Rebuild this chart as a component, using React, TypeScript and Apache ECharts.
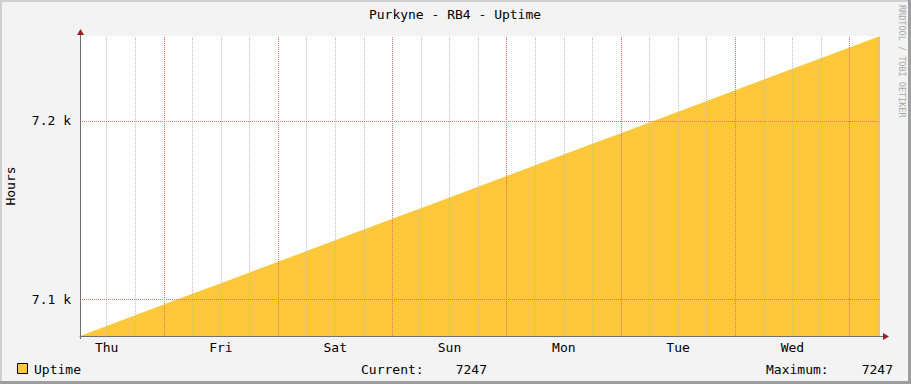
import React, { useEffect, useRef } from "react";
import * as echarts from "echarts";

// Hours since Thursday 00:00 of the first day shown
const hours = [
  6.4, 12, 18, 24, 30, 36, 42, 48, 54, 60, 66, 72, 78, 84, 90, 96, 102, 108,
  114, 120, 126, 132, 138, 144, 150, 156, 162, 168, 174, 174.4,
];
// Uptime (hours)
const uptime = [
  7079.5, 7085.1, 7091.1, 7097.1, 7103.1, 7109.1, 7115.1, 7121.1, 7127.1,
  7133.1, 7139.1, 7145.1, 7151.1, 7157.1, 7163.1, 7169.1, 7175.1, 7181.1,
  7187.1, 7193.1, 7199.1, 7205.1, 7211.1, 7217.1, 7223.1, 7229.1, 7235.1,
  7241.1, 7247.1, 7247.4,
];
const dayNames = ["Thu", "Fri", "Sat", "Sun", "Mon", "Tue", "Wed"];
const yTicks = [7100, 7200];

const TITLE = "Purkyne - RB4 - Uptime";
const SERIES_NAME = "Uptime";
const CREDIT = "RRDTOOL / TOBI OETIKER";

const X_MIN = 6.4;
const X_MAX = 174.4;
const Y_MIN = 7079.5;
const Y_MAX = 7247.5;
const MINOR_STEP = 6; // hours between minor grid lines
const MAJOR_STEP = 24; // hours between major grid lines

const W = 911;
const H = 384;
const GL = 80;
const GT = 36;
const GW = 800;
const GH = 300;

const FONT = '"DejaVu Sans Mono", "Liberation Mono", monospace';
const GOLD = "#FFC73A";
const MINOR = "#BEBEBE";
const MAJOR = "#F06A6A";
const AXIS = "#707070";
const ARROW = "#9B1F1F";

export default function App() {
  const ref = useRef<HTMLDivElement>(null);
  useEffect(() => {
    document.body.style.margin = "0";
    if (!ref.current) return;
    const chart = echarts.init(ref.current, undefined, { renderer: "svg" });
    const current = uptime[uptime.length - 1];
    const maximum = Math.max(...uptime);
    const axisBottom = GT + GH;
    const axisRight = GL + GW;

    const gridLines: any[] = [];
    for (
      let h = Math.ceil(X_MIN / MINOR_STEP) * MINOR_STEP;
      h < X_MAX;
      h += MINOR_STEP
    ) {
      const major = h % MAJOR_STEP === 0;
      gridLines.push({
        xAxis: h,
        lineStyle: { color: major ? MAJOR : MINOR, type: [1, 1], width: 1, opacity: 1 },
      });
    }

    const txt = (text: string, x: number, y: number, align: string) => ({
      type: "text",
      x,
      y,
      style: {
        text,
        fill: "#000",
        fontFamily: FONT,
        fontSize: 13,
        textAlign: align,
        textVerticalAlign: "middle",
      },
    });
    chart.setOption({
      animation: false,
      backgroundColor: "#F3F3F3",
      textStyle: { fontFamily: FONT },
      grid: {
        left: GL,
        top: GT,
        width: GW,
        height: GH,
        show: true,
        backgroundColor: "#FFFFFF",
        borderWidth: 0,
        outerBoundsMode: "none",
        containLabel: false,
      },
      xAxis: {
        type: "value",
        min: X_MIN,
        max: X_MAX,
        minInterval: MINOR_STEP,
        maxInterval: MINOR_STEP,
        splitNumber: 28,
        z: 10,
        axisLine: { show: true, onZero: false, lineStyle: { color: AXIS, width: 1 } },
        axisTick: { show: false },
        axisLabel: {
          color: "#000",
          fontFamily: FONT,
          fontSize: 13,
          margin: 5,
          formatter: (v: number) => {
            const r = ((v % 24) + 24) % 24;
            if (Math.abs(r - 12) < 1e-6) {
              const i = Math.round((v - 12) / 24);
              return dayNames[i] ?? "";
            }
            return "";
          },
        },
        splitLine: { show: false },
      },
      yAxis: {
        type: "value",
        min: Y_MIN,
        max: Y_MAX,
        minInterval: 100,
        maxInterval: 100,
        splitNumber: 2,
        z: 10,
        name: "Hours",
        nameLocation: "middle",
        nameGap: 63,
        nameRotate: 90,
        nameTextStyle: { color: "#000", fontFamily: FONT, fontSize: 13 },
        axisLine: { show: true, lineStyle: { color: AXIS, width: 1 } },
        axisTick: { show: false },
        axisLabel: {
          color: "#000",
          fontFamily: FONT,
          fontSize: 13,
          margin: 9,
          formatter: (v: number) =>
            yTicks.indexOf(v) >= 0 ? (v / 1000).toFixed(1) + " k" : "",
        },
        splitLine: {
          show: true,
          showMinLine: false,
          showMaxLine: false,
          lineStyle: { color: MAJOR, type: [1, 1], width: 1 },
        },
      },
      series: [
        {
          name: SERIES_NAME,
          type: "line",
          data: hours.map((h, i) => [h, uptime[i]]),
          showSymbol: false,
          symbol: "none",
          lineStyle: { width: 0, color: GOLD },
          itemStyle: { color: GOLD },
          areaStyle: { color: GOLD, opacity: 1, origin: "start" },
          z: 2,
          markLine: {
            silent: true,
            symbol: ["none", "none"],
            label: { show: false },
            emphasis: { disabled: true },
            lineStyle: { color: MINOR, type: [1, 1], width: 1 },
            data: gridLines,
          },
        },
      ],
      graphic: [
        // frame
        { type: "rect", shape: { x: 0, y: 0, width: W, height: 2 }, style: { fill: "#CFCFCF" }, silent: true },
        { type: "rect", shape: { x: 0, y: 0, width: 2, height: H }, style: { fill: "#CFCFCF" }, silent: true },
        { type: "rect", shape: { x: W - 3, y: 0, width: 3, height: H }, style: { fill: "#9E9E9E" }, silent: true },
        { type: "rect", shape: { x: 0, y: H - 3, width: W, height: 3 }, style: { fill: "#9E9E9E" }, silent: true },
        // title
        txt(TITLE, 455, 14, "center"),
        // credit
        {
          type: "text",
          x: 902,
          y: 5,
          rotation: -Math.PI / 2,
          style: {
            text: CREDIT,
            fill: "#A8A8A8",
            fontFamily: FONT,
            fontSize: 8.5,
            textAlign: "left",
            textVerticalAlign: "middle",
          },
        },
        // axis extensions and arrows
        {
          type: "line",
          shape: { x1: axisRight, y1: axisBottom + 0.5, x2: axisRight + 4, y2: axisBottom + 0.5 },
          style: { stroke: AXIS, lineWidth: 1 },
          z: 20,
        },
        {
          type: "polygon",
          shape: {
            points: [
              [axisRight + 3, axisBottom - 3],
              [axisRight + 9, axisBottom + 0.5],
              [axisRight + 3, axisBottom + 4],
            ],
          },
          style: { fill: ARROW },
          z: 20,
        },
        {
          type: "line",
          shape: { x1: GL + 0.5, y1: GT - 2, x2: GL + 0.5, y2: GT },
          style: { stroke: AXIS, lineWidth: 1 },
          z: 20,
        },
        {
          type: "line",
          shape: { x1: GL + 0.5, y1: axisBottom, x2: GL + 0.5, y2: axisBottom + 3 },
          style: { stroke: AXIS, lineWidth: 1 },
          z: 20,
        },
        {
          type: "polygon",
          shape: {
            points: [
              [GL - 3, GT - 1],
              [GL + 0.5, GT - 7],
              [GL + 4, GT - 1],
            ],
          },
          style: { fill: ARROW },
          z: 20,
        },
        // legend
        {
          type: "rect",
          shape: { x: 17.5, y: 363.5, width: 10, height: 10 },
          style: { fill: GOLD, stroke: "#000", lineWidth: 1 },
        },
        txt(SERIES_NAME, 34, 369, "left"),
        txt("Current:", 361, 369, "left"),
        txt(current.toFixed(0), 487, 369, "right"),
        txt("Maximum:", 766, 369, "left"),
        txt(maximum.toFixed(0), 893, 369, "right"),
      ],
    });
    return () => chart.dispose();
  }, []);
  return <div ref={ref} style={{ width: W, height: H }} />;
}
